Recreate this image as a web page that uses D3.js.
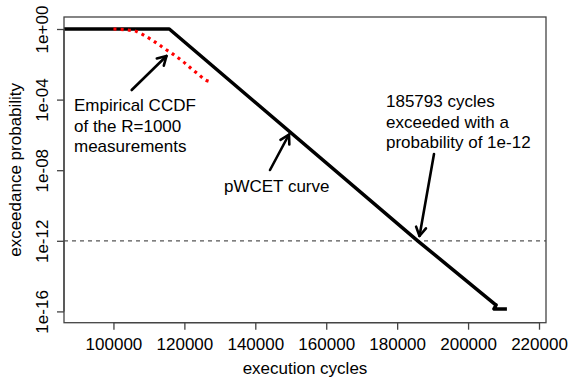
<!DOCTYPE html>
<html><head><meta charset="utf-8">
<script src="https://cdn.jsdelivr.net/npm/d3@7"></script>
<style>
body{margin:0;background:#fff;}
text{font-family:"Liberation Sans",Arial,sans-serif;fill:#000;}
</style></head>
<body><svg id="c" width="568" height="381"></svg>
<script>
// ---- data ----
const xTicks = [100000,120000,140000,160000,180000,200000,220000];
const yTickValues = [1e0,1e-4,1e-8,1e-12,1e-16];
const yTickLabels = ["1e+00","1e-04","1e-08","1e-12","1e-16"];
const pwcetX = [86056,115750,185793,207700,207900,207300,210950];
const pwcetP = [1,1,1e-12,2.45e-16,2.3e-16,1.38e-16,1.38e-16];
const empX = [100000,106000,107850,109500,111150,112850,114550,116200,117900,119600,121000,122400,124100,125800,127500];
const empP = [1,0.77,0.54,0.35,0.217,0.129,0.0736,0.0454,0.0259,0.0144,0.00834,0.00475,0.00258,0.00134,0.001];
const threshold = 1e-12;
const annotations = [
  {lines:["Empirical CCDF","of the R=1000","measurements"]},
  {lines:["pWCET curve"]},
  {lines:["185793 cycles","exceeded with a","probability of 1e-12"]}
];
const xTitle = "execution cycles", yTitle = "exceedance probability";

// ---- layout ----
const L=64, R=546, T=17, B=322.7;
const svg = d3.select("#c");
const x = d3.scaleLinear().domain([86056,221972]).range([L,R]);
const y = d3.scaleLog().domain([Math.pow(10,-16.64),Math.pow(10,0.68)]).range([B,T]);

const clip = svg.append("clipPath").attr("id","pc").append("rect")
  .attr("x",L).attr("y",T).attr("width",R-L).attr("height",B-T);

// threshold line
svg.append("line").attr("x1",L).attr("x2",R).attr("y1",y(threshold)).attr("y2",y(threshold))
  .attr("stroke","#555").attr("stroke-width",1.2).attr("stroke-dasharray","4,4");

// pWCET
const line = d3.line().x(d=>x(d[0])).y(d=>y(d[1]));
svg.append("path").attr("clip-path","url(#pc)")
  .attr("d",line(pwcetX.map((v,i)=>[v,pwcetP[i]])))
  .attr("fill","none").attr("stroke","#000").attr("stroke-width",3.5)
  .attr("stroke-linejoin","round");

// empirical
svg.append("path")
  .attr("d",d3.line().curve(d3.curveMonotoneX).x(d=>x(d[0])).y(d=>y(d[1]))(empX.map((v,i)=>[v,empP[i]])))
  .attr("fill","none").attr("stroke","#ff0000").attr("stroke-width",3.2)
  .attr("stroke-dasharray","3,4.2");

// box
svg.append("rect").attr("x",L).attr("y",T).attr("width",R-L).attr("height",B-T)
  .attr("fill","none").attr("stroke","#444").attr("stroke-width",1.3);

// axes
const xa = svg.append("g").attr("transform",`translate(0,${B})`)
  .call(d3.axisBottom(x).tickValues(xTicks).tickFormat(d3.format("d")).tickSize(7).tickSizeOuter(0));
xa.select(".domain").attr("d",`M${x(xTicks[0])},0H${x(xTicks[xTicks.length-1])}`).attr("stroke","#444").attr("stroke-width",1.3);
xa.selectAll(".tick line").attr("stroke","#444").attr("stroke-width",1.3);
xa.selectAll(".tick text").attr("y",27.3).attr("dy",0).style("font-size","17px")
  .style("font-family","Liberation Sans, Arial, sans-serif").attr("fill","#000");

const ya = svg.append("g").attr("transform",`translate(${L},0)`)
  .call(d3.axisLeft(y).tickValues(yTickValues).tickFormat((d,i)=>yTickLabels[i]).tickSize(7).tickSizeOuter(0));
ya.select(".domain").attr("d",`M0,${y(yTickValues[0])}V${y(yTickValues[yTickValues.length-1])}`).attr("stroke","#444").attr("stroke-width",1.3);
ya.selectAll(".tick line").attr("stroke","#444").attr("stroke-width",1.3);
ya.selectAll(".tick text").attr("x",0).attr("dy",0)
  .attr("transform","translate(-16,0) rotate(-90)")
  .attr("text-anchor","middle").style("font-size","17px")
  .style("font-family","Liberation Sans, Arial, sans-serif").attr("fill","#000");

// titles
svg.append("text").attr("x",(L+R)/2).attr("y",374).attr("text-anchor","middle")
  .style("font-size","17px").text(xTitle);
svg.append("text").attr("transform",`translate(21,${(T+B)/2}) rotate(-90)`).attr("text-anchor","middle")
  .style("font-size","17px").text(yTitle);

// annotations
const annPos = [[74,111],[224,191.5],[386,107.3]];
annotations.forEach((a,k)=>{
  a.lines.forEach((s,i)=>{
    svg.append("text").attr("x",annPos[k][0]).attr("y",annPos[k][1]+i*20.5)
      .style("font-size","17px").text(s);
  });
});

// arrows
function arrow(x0,y0,x1,y1){
  const g = svg.append("g").attr("stroke","#000").attr("stroke-width",2.6).attr("fill","none")
    .attr("stroke-linecap","round");
  g.append("line").attr("x1",x0).attr("y1",y0).attr("x2",x1).attr("y2",y1);
  const a = Math.atan2(y1-y0,x1-x0), len=10, sp=Math.PI/6;
  g.append("path").attr("stroke-linejoin","round").attr("d",
    `M${x1-len*Math.cos(a-sp)},${y1-len*Math.sin(a-sp)}L${x1},${y1}L${x1-len*Math.cos(a+sp)},${y1-len*Math.sin(a+sp)}`);
}
arrow(131.7,90,166.5,56);
arrow(270,170,289,134.5);
arrow(434,154,419.5,236);
</script></body></html>
